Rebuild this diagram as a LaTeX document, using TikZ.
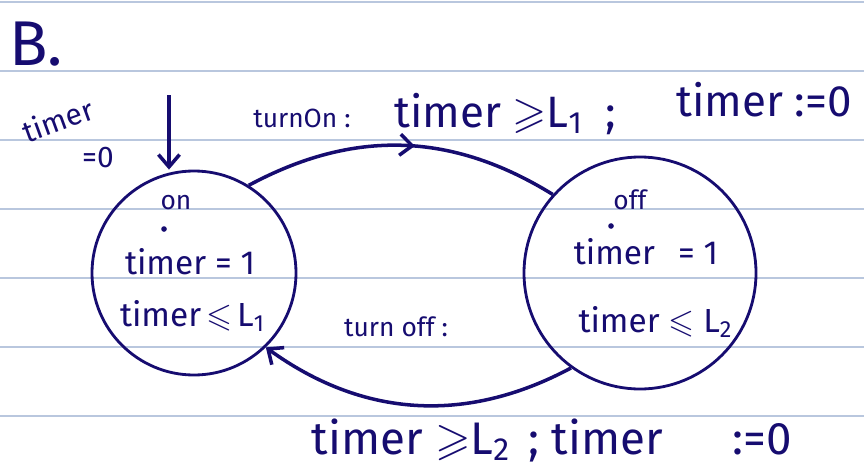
\documentclass[tikz,border=0pt]{standalone}
\usepackage{amssymb}
\usepackage{fontspec}
\setmainfont{Fira Sans}
\usetikzlibrary{arrows.meta,positioning,decorations.markings}
\definecolor{ink}{RGB}{22,12,112}
\definecolor{rule}{HTML}{B9C7DE}
\newcommand{\lsub}[1]{\raisebox{-0.25ex}{\scalebox{0.7}{#1}}}
\tikzset{
  state/.style={
    draw=ink, circle, line width=1.6pt, inner sep=0pt, align=center
  },
  inklabel/.style={text=ink, inner sep=0pt},
  trans/.style={draw=ink, line width=2pt},
  tip/.style={-{Straight Barb[length=7pt,width=12pt,line width=2pt]}, trans},
  midtip/.style={trans, postaction={decorate}, decoration={markings,
    mark=at position 0.54 with {\arrow{Straight Barb[length=7pt,width=12pt,line width=2pt]}}}},
}
\begin{document}
\begin{tikzpicture}[x=0.02cm, y=-0.02cm]
  \useasboundingbox (0,0) rectangle (864,466);
  % ruled paper
  \foreach \ly in {2,71,140,209,278,347,416}
    \draw[rule, line width=1.2pt] (0,\ly) -- (864,\ly);

  \node[inklabel, font=\fontsize{36}{38}\selectfont\fontseries{l}\selectfont] (title) at (36,44) {B.};

  % states
  \node[state, minimum size=204*0.02cm] (on)  at (194,273) {};
  \node[state, minimum size=232*0.02cm] (off) at (640,273) {};

  \node[inklabel, font=\fontsize{15}{16}\selectfont] (onname) at (176,203) {on};
  \fill[ink] (164,229) circle (1.6pt);
  \node[inklabel, font=\fontsize{19}{20}\selectfont] (oninv1) at (190,262) {timer = 1};
  \node[inklabel, font=\fontsize{19}{20}\selectfont] (oninv2) at (192,316) {timer$\,\leqslant\,$L\lsub{1}};

  \node[inklabel, font=\fontsize{15}{16}\selectfont] (offname) at (630,200) {off};
  \fill[ink] (611,226) circle (1.6pt);
  \node[inklabel, font=\fontsize{19}{20}\selectfont] (offinv1) at (646,252) {timer \ \,= 1};
  \node[inklabel, font=\fontsize{19}{20}\selectfont] (offinv2) at (655,322) {timer $\leqslant$ L\lsub{2}};

  % initial arrow
  \coordinate (init) at (169,95);
  \draw[tip] (init) -- (on.north -| init);
  \node[inklabel, font=\fontsize{17}{18}\selectfont, rotate=20] (initname) at (58,120) {timer};
  \node[inklabel, font=\fontsize{17}{18}\selectfont] (initval) at (98,158) {=0};

  % transitions
  \draw[midtip] (on.58) to[bend left=30] (off.138);
  \draw[tip] (off.234) to[bend left=32] (on.314);

  \node[inklabel, font=\fontsize{15}{16}\selectfont] (onlbl) at (302,118) {turnOn :};
  \node[inklabel, font=\fontsize{25}{27}\selectfont] (onguard) at (505,114) {timer $\geqslant$L\lsub{1} \ ;};
  \node[inklabel, font=\fontsize{25}{27}\selectfont] (onreset) at (764,100) {timer :=0};

  \node[inklabel, font=\fontsize{26}{28}\selectfont] (offguard) at (552,440) {timer $\geqslant$L\lsub{2} \,; timer \quad\ :=0};
  \node[inklabel, font=\fontsize{15}{16}\selectfont] (offlbl) at (396,327) {turn off :};
\end{tikzpicture}
\end{document}
